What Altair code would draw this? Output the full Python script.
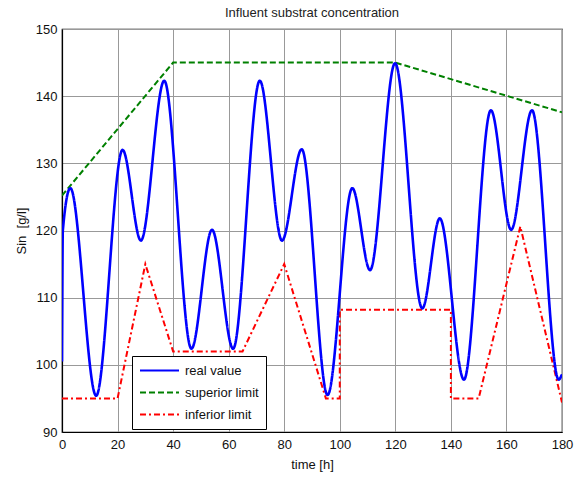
import altair as alt
import pandas as pd

# real value (extrema + endpoints)
real_t = [0, 0.3, 3, 12.3, 21.8, 28.4, 36.8, 46.6, 54.0, 61.6, 71.2, 79.2, 86.3, 95.6, 104.5, 110.9, 119.9, 129.7, 136.0, 144.7, 154.4, 161.7, 169.2, 178.8, 180]
real_v = [100.5, 120, 126.3, 95.4, 132.0, 118.5, 142.3, 102.4, 120.1, 102.4, 142.3, 118.5, 132.1, 95.5, 126.3, 114.1, 144.9, 108.4, 121.8, 97.8, 137.9, 120.1, 137.9, 97.8, 98.6]

sup_t = [0, 40, 120, 180]
sup_v = [125.2, 145, 145, 137.6]

inf_t = [0, 20, 30, 40, 65, 80, 95, 100, 100, 140, 140, 150, 165, 180]
inf_v = [95, 95, 115, 102, 102, 115, 95, 95, 108.2, 108.2, 95, 95, 120.6, 94.4]

names = ["real value", "superior limit", "inferior limit"]
colors = ["#0000FF", "#008000", "#FF0000"]
dashes = [[1, 0], [6, 3], [6, 3, 2, 3]]

real_df = pd.DataFrame({"t": real_t, "v": real_v, "series": names[0], "o": range(len(real_t))})
sup_df = pd.DataFrame({"t": sup_t, "v": sup_v, "series": names[1], "o": range(len(sup_t))})
inf_df = pd.DataFrame({"t": inf_t, "v": inf_v, "series": names[2], "o": range(len(inf_t))})

FONT = "Liberation Sans"

x_enc = alt.X("t:Q", scale=alt.Scale(domain=[0, 180], nice=False, zero=False),
              axis=alt.Axis(values=list(range(0, 181, 20)), title="time [h]", labelFlush=False))
y_enc = alt.Y("v:Q", scale=alt.Scale(domain=[90, 150], nice=False, zero=False),
              axis=alt.Axis(values=list(range(90, 151, 10)), title="Sin\u00a0\u00a0[g/l]", labelFlush=False))
color_enc = alt.Color("series:N", scale=alt.Scale(domain=names, range=colors),
                      legend=alt.Legend(title=None, orient="none", legendX=70, legendY=327,
                                        symbolType="M-1,0H5", symbolSize=169,
                                        symbolStrokeWidth=2, labelFontSize=13, labelFont=FONT,
                                        labelColor="#111",
                                        strokeColor="black", fillColor="white",
                                        padding=7, rowPadding=7, labelOffset=31,
                                        cornerRadius=0))
dash_enc = alt.StrokeDash("series:N", scale=alt.Scale(domain=names, range=dashes), legend=None)

real = alt.Chart(real_df).mark_line(interpolate="monotone", strokeWidth=2.6, clip=True).encode(
    x=x_enc, y=y_enc, color=color_enc, strokeDash=dash_enc, order="o:Q")
limits = alt.Chart(pd.concat([sup_df, inf_df])).mark_line(strokeWidth=2, clip=True).encode(
    x=x_enc, y=y_enc, color=color_enc, strokeDash=dash_enc, order="o:Q", detail="series:N")

chart = alt.layer(limits, real).properties(
    width=500, height=403,
    title=alt.TitleParams("Influent substrat concentration", fontSize=13, font=FONT,
                          fontWeight="normal", color="#222", offset=3),
    autosize=alt.AutoSizeParams(type="none"),
    padding={"left": 62, "top": 29, "right": 16, "bottom": 49},
).configure_view(stroke="black", strokeWidth=1.2).configure_axis(
    labelFont=FONT, titleFont=FONT, labelFontSize=13, titleFontSize=13,
    titleFontWeight="normal", labelColor="#111", titleColor="#111",
    domainColor="black", domainWidth=1.2, ticks=False, gridColor="#999999",
    gridWidth=1, gridOpacity=1,
).configure_axisX(labelPadding=6, titlePadding=7).configure_axisY(labelPadding=5, titlePadding=7)

chart.save("out.html", embed_options={"renderer": "svg", "actions": False})
